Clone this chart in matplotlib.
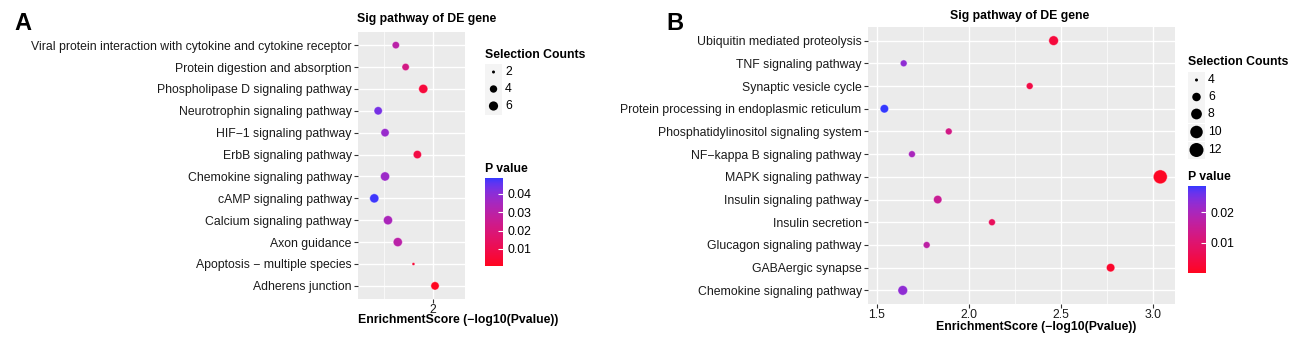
import numpy as np
import matplotlib
matplotlib.use("Agg")
import matplotlib.pyplot as plt
from matplotlib.colors import LinearSegmentedColormap, Normalize
from matplotlib.cm import ScalarMappable

plt.rcParams['font.family'] = ['Liberation Sans', 'DejaVu Sans']

# ---- panel A data ----
pathways_a = ["Viral protein interaction with cytokine and cytokine receptor",
              "Protein digestion and absorption",
              "Phospholipase D signaling pathway",
              "Neurotrophin signaling pathway",
              "HIF\u22121 signaling pathway",
              "ErbB signaling pathway",
              "Chemokine signaling pathway",
              "cAMP signaling pathway",
              "Calcium signaling pathway",
              "Axon guidance",
              "Apoptosis \u2212 multiple species",
              "Adherens junction"]
score_a = [1.81, 1.86, 1.95, 1.72, 1.755, 1.92, 1.755, 1.70, 1.77, 1.82, 1.90, 2.01]
pval_a = [0.030, 0.022, 0.006, 0.043, 0.038, 0.008, 0.037, 0.048, 0.034, 0.030, 0.005, 0.001]
count_a = [4, 4, 6, 5, 5, 5, 6, 6, 6, 6, 2, 5]
legend_counts_a = [2, 4, 6]
cbar_ticks_a = [0.01, 0.02, 0.03, 0.04]

# ---- panel B data ----
pathways_b = ["Ubiquitin mediated proteolysis",
              "TNF signaling pathway",
              "Synaptic vesicle cycle",
              "Protein processing in endoplasmic reticulum",
              "Phosphatidylinositol signaling system",
              "NF\u2212kappa B signaling pathway",
              "MAPK signaling pathway",
              "Insulin signaling pathway",
              "Insulin secretion",
              "Glucagon signaling pathway",
              "GABAergic synapse",
              "Chemokine signaling pathway"]
score_b = [2.46, 1.645, 2.33, 1.54, 1.89, 1.69, 3.04, 1.83, 2.125, 1.77, 2.77, 1.64]
pval_b = [0.0035, 0.023, 0.0047, 0.0285, 0.013, 0.020, 0.0009, 0.015, 0.0075, 0.017, 0.0017, 0.023]
count_b = [7, 5, 5, 6, 5, 5, 12, 6, 5, 5, 6, 7]
legend_counts_b = [4, 6, 8, 10, 12]
cbar_ticks_b = [0.01, 0.02]

W, H = 1300, 342
FS = 8.8

# ggplot-like red -> blue gradient interpolated in Lab space
M = np.array([[0.4124, 0.3576, 0.1805], [0.2126, 0.7152, 0.0722], [0.0193, 0.1192, 0.9505]])
WHITE = np.array([0.95047, 1.0, 1.08883])


def to_lab(rgb):
    rgb = np.asarray(rgb, float)
    lin = np.where(rgb <= 0.04045, rgb / 12.92, ((rgb + 0.055) / 1.055) ** 2.4)
    xyz = M @ lin / WHITE
    f = np.where(xyz > 0.008856, np.cbrt(xyz), 7.787 * xyz + 16 / 116)
    return np.array([116 * f[1] - 16, 500 * (f[0] - f[1]), 200 * (f[1] - f[2])])


def to_rgb(lab):
    L, a, b = lab
    fy = (L + 16) / 116
    f = np.array([fy + a / 500, fy, fy - b / 200])
    xyz = np.where(f ** 3 > 0.008856, f ** 3, (f - 16 / 116) / 7.787) * WHITE
    lin = np.clip(np.linalg.inv(M) @ xyz, 0, 1)
    rgb = np.where(lin <= 0.0031308, 12.92 * lin, 1.055 * lin ** (1 / 2.4) - 0.055)
    return np.clip(rgb, 0, 1)


lo, hi = to_lab([1, 0.02, 0.12]), to_lab([0.2, 0.22, 1])
cmap = LinearSegmentedColormap.from_list(
    "rb", [to_rgb(lo * (1 - t) + hi * t) for t in np.linspace(0, 1, 64)])


def fx(px):
    return px / W


def fy(py):
    return 1 - py / H


def diam(c, lims, drange):
    c = np.asarray(c, float)
    return drange[0] + (drange[1] - drange[0]) * np.sqrt((c - lims[0]) / (lims[1] - lims[0]))


def s_of(d_px):
    return (d_px * 72 / 100) ** 2


fig = plt.figure(figsize=(W / 100, H / 100), dpi=100)


def panel(box, names, score, pval, count, xlim, majors, labels, minors,
          clims, slims, drange):
    l, t, r, b = box
    ax = fig.add_axes([fx(l), fy(b), fx(r) - fx(l), fy(t) - fy(b)])
    ax.set_facecolor("#EBEBEB")
    n = len(names)
    y = np.arange(n)[::-1]
    norm = Normalize(*clims)
    ax.scatter(score, y, s=s_of(diam(count, slims, drange)), c=pval, cmap=cmap,
               norm=norm, linewidths=0.7, edgecolors=(1, 1, 1, 0.45), zorder=3)
    ax.set_xlim(*xlim)
    ax.set_ylim(-0.6, n - 0.4)
    ax.set_xticks(majors)
    ax.set_xticklabels(labels)
    ax.set_xticks(minors, minor=True)
    ax.set_yticks(y)
    ax.set_yticklabels(names)
    ax.grid(True, which="major", color="white", lw=1.0, zorder=1)
    ax.grid(True, which="minor", axis="x", color="white", lw=0.5, zorder=1)
    ax.set_axisbelow(True)
    for sp in ax.spines.values():
        sp.set_visible(False)
    ax.tick_params(axis="both", which="major", length=3, width=0.8, color="#333333",
                   labelsize=FS, labelcolor="#1a1a1a", pad=1.5)
    ax.tick_params(axis="x", which="major", pad=0.5)
    ax.tick_params(which="minor", length=0)
    return ax, norm


def legends(x0, y_title, key_ys, counts, slims, drange, y_ptitle, cb_top, cb_bot,
            norm, ticks):
    fig.text(fx(x0), fy(y_title), "Selection Counts", fontsize=FS, fontweight="bold",
             va="center", ha="left")
    lax = fig.add_axes([0, 0, 1, 1], facecolor="none")
    lax.set_xlim(0, W)
    lax.set_ylim(H, 0)
    lax.axis("off")
    for yk in key_ys:
        lax.add_patch(plt.Rectangle((x0, yk - 8.5), 17, 17, color="#F4F4F4", lw=0))
    lax.scatter([x0 + 8.5] * len(counts), key_ys, s=s_of(diam(counts, slims, drange)),
                color="black", linewidths=0, zorder=3)
    for c, yk in zip(counts, key_ys):
        fig.text(fx(x0 + 20), fy(yk), str(c), fontsize=FS, va="center", ha="left")
    fig.text(fx(x0), fy(y_ptitle), "P value", fontsize=FS, fontweight="bold",
             va="center", ha="left")
    cax = fig.add_axes([fx(x0), fy(cb_bot), 18 / W, (cb_bot - cb_top) / H])
    cb = fig.colorbar(ScalarMappable(norm=norm, cmap=cmap), cax=cax, ticks=ticks)
    cb.outline.set_visible(False)
    cb.ax.set_yticklabels([f"{v:.2f}" for v in ticks])
    cb.ax.tick_params(length=3.5, width=0.8, color="white", direction="in",
                      labelsize=FS, pad=3)


# ---- panel A ----
ax_a, norm_a = panel((358, 32, 465, 299), pathways_a, score_a, pval_a, count_a,
                     (1.617, 2.163), [2.0], ["2"], [1.75],
                     (0.0007, 0.0487), (2, 6), (3, 9.2))
fig.text(fx(357), fy(19), "Sig pathway of DE gene", fontsize=FS, fontweight="bold",
         ha="left", va="center")
fig.text(fx(358), fy(320), "EnrichmentScore (\u2212log10(Pvalue))", fontsize=FS,
         fontweight="bold", ha="left", va="center")
fig.text(fx(14), fy(23), "A", fontsize=17, fontweight="bold", ha="left", va="center")
legends(485, 55, [72, 89, 106], legend_counts_a, (2, 6), (3, 9.2), 169, 178, 266,
        norm_a, cbar_ticks_a)

# ---- panel B ----
ax_b, norm_b = panel((868, 27, 1175, 304), pathways_b, score_b, pval_b, count_b,
                     (1.451, 3.12), [1.5, 2.0, 2.5, 3.0], ["1.5", "2.0", "2.5", "3.0"],
                     [1.75, 2.25, 2.75], (0.0003, 0.0284), (4, 12), (3, 14))
fig.text(fx(1020), fy(16), "Sig pathway of DE gene", fontsize=FS, fontweight="bold",
         ha="center", va="center")
fig.text(fx(1036), fy(327), "EnrichmentScore (\u2212log10(Pvalue))", fontsize=FS,
         fontweight="bold", ha="center", va="center")
fig.text(fx(666), fy(24), "B", fontsize=17, fontweight="bold", ha="left", va="center")
legends(1188, 62, [80, 97, 114, 132, 150], legend_counts_b, (4, 12), (3, 14), 177,
        186, 273, norm_b, cbar_ticks_b)

fig.savefig("out.png", dpi=100)
